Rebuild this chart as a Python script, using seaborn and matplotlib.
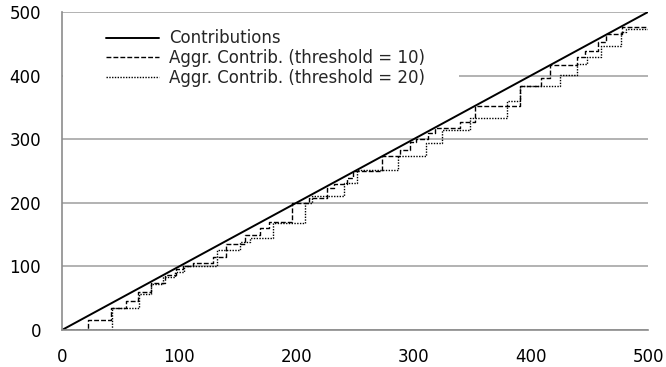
import numpy as np
import pandas as pd
import matplotlib
matplotlib.use("Agg")
import matplotlib.pyplot as plt
import matplotlib.patches as mpatches
import seaborn as sns

# -------------------------------
# Data
# -------------------------------
contrib_x = [0, 500]
contrib_y = [0, 500]

# step points for aggregated contributions, threshold = 10
agg10_x = [0, 22, 42, 55, 65, 76, 88, 97, 103, 112, 129, 140, 156, 169, 177, 196, 211,
           226, 232, 243, 248, 273, 288, 297, 302, 312, 318, 340, 352, 391, 409, 416,
           439, 446, 457, 464, 478, 500]
agg10_y = [0, 15, 35, 46, 59, 74, 86, 96, 100, 106, 115, 136, 149, 160, 170, 200, 208,
           223, 229, 239, 250, 273, 283, 296, 300, 310, 318, 327, 352, 384, 396, 416,
           430, 438, 453, 465, 477, 477]

# step points for aggregated contributions, threshold = 20
agg20_x = [0, 43, 66, 76, 86, 96, 104, 132, 152, 160, 180, 207, 213, 241, 252, 287,
           311, 324, 348, 380, 391, 425, 439, 448, 460, 477, 481, 500]
agg20_y = [0, 34, 57, 72, 83, 91, 100, 126, 138, 145, 168, 200, 210, 231, 251, 273,
           294, 314, 333, 360, 383, 401, 418, 430, 447, 468, 474, 474]

x_ticks = [0, 100, 200, 300, 400, 500]
y_ticks = [0, 100, 200, 300, 400, 500]

# -------------------------------
# Plot
# -------------------------------
sns.set_style("white")
plt.rcParams["font.family"] = ["DejaVu Sans"]

fig = plt.figure(figsize=(6.66, 3.67), dpi=100)
ax = fig.add_axes([62 / 666, 1 - 330 / 367, 586 / 666, 318 / 367])

sns.lineplot(x=contrib_x, y=contrib_y, ax=ax, color="black", lw=1.4,
             label="Contributions", estimator=None)
sns.lineplot(x=agg10_x, y=agg10_y, ax=ax, color="black", lw=1.0,
             linestyle=(0, (3.5, 1.5)), drawstyle="steps-post",
             label="Aggr. Contrib. (threshold = 10)", estimator=None, sort=False)
sns.lineplot(x=agg20_x, y=agg20_y, ax=ax, color="black", lw=1.0,
             linestyle=(0, (1, 1)), drawstyle="steps-post",
             label="Aggr. Contrib. (threshold = 20)", estimator=None, sort=False)

ax.set_xlim(0, 500)
ax.set_ylim(0, 500)
ax.set_xticks(x_ticks)
ax.set_yticks(y_ticks)
ax.yaxis.grid(True, color="#a6a6a6", lw=1.2)
ax.set_axisbelow(True)

# white legend area hides the grid line behind it
ax.add_patch(mpatches.Rectangle((0.002, 0.76), 0.676, 0.20, transform=ax.transAxes,
                                facecolor="white", edgecolor="none", zorder=1))

for s in ["top", "right"]:
    ax.spines[s].set_visible(False)
for s in ["left", "bottom"]:
    ax.spines[s].set_color("#8c8c8c")
    ax.spines[s].set_linewidth(1.2)

ax.tick_params(axis="both", direction="out", length=5, color="#8c8c8c",
               width=1.2, labelsize=12, labelcolor="black")
ax.tick_params(axis="x", pad=8)
ax.tick_params(axis="y", pad=10)
ax.set_xlabel("")
ax.set_ylabel("")

leg = ax.legend(loc="upper left", bbox_to_anchor=(0.052, 0.987), frameon=True,
                fontsize=12, handlelength=3.2, handletextpad=0.6,
                labelspacing=0.1, borderpad=0.3)
leg.get_frame().set_facecolor("white")
leg.get_frame().set_edgecolor("none")
leg.get_frame().set_alpha(1)

fig.savefig("out.png", dpi=100)
